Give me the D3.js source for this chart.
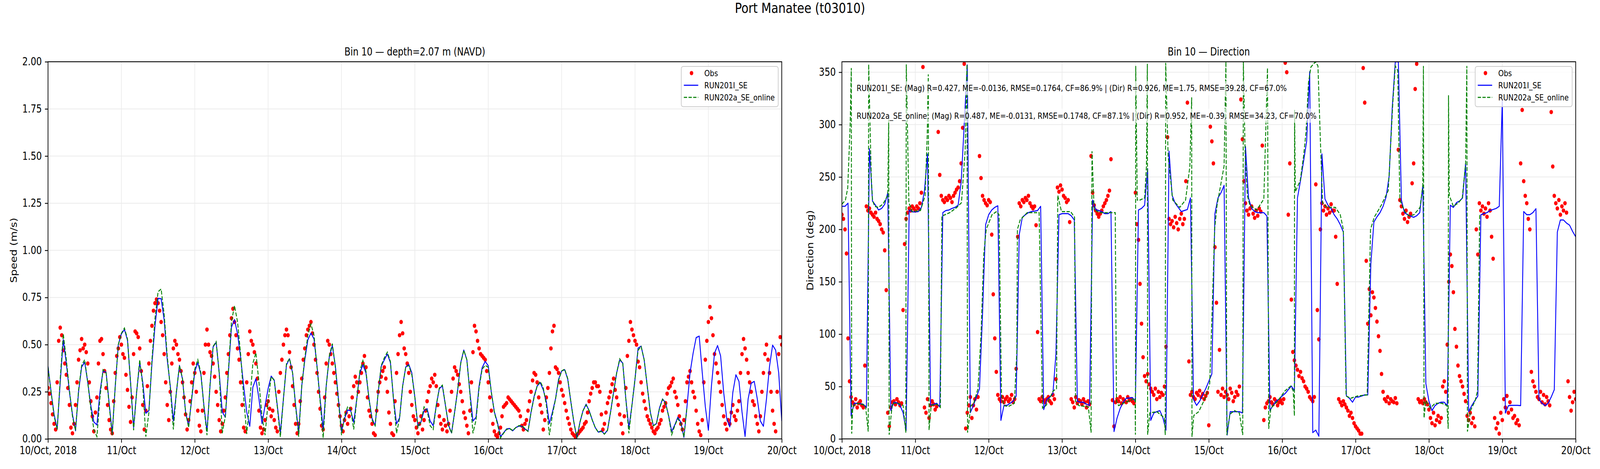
<!DOCTYPE html>
<html><head><meta charset="utf-8">
<script src="https://cdn.jsdelivr.net/npm/d3@7"></script>
<style>
html,body{margin:0;padding:0;background:#fff;overflow:hidden;width:100%;height:100%;}
svg{display:block;font-family:"DejaVu Sans",sans-serif;width:100vw;height:100vh;}
</style></head><body>
<svg id="chart" viewBox="0 0 5000 1200" preserveAspectRatio="none"></svg>
<script>
// ---------------- DATA ----------------
const dayLabels = ["10/Oct, 2018","11/Oct","12/Oct","13/Oct","14/Oct","15/Oct","16/Oct","17/Oct","18/Oct","19/Oct","20/Oct"];
const dayHours = [0,24,48,72,96,120,144,168,192,216,240];
const speedTicks = [0,0.25,0.5,0.75,1,1.25,1.5,1.75,2];
const dirTicks = [0,50,100,150,200,250,300,350];
const seriesNames = ["Obs","RUN201I_SE","RUN202a_SE_online"];
const statLines = [
  "RUN201I_SE: (Mag) R=0.427, ME=-0.0136, RMSE=0.1764, CF=86.9% | (Dir) R=0.926, ME=1.75, RMSE=39.28, CF=67.0%",
  "RUN202a_SE_online: (Mag) R=0.487, ME=-0.0131, RMSE=0.1748, CF=87.1% | (Dir) R=0.952, ME=-0.39, RMSE=34.23, CF=70.0%"
];

// observed speed (m/s), every 30 min from 10/Oct 00:00
const obsSpeed = [
0.27,0.24,0.19,0.13,0.08,0.05,0.30,0.52,0.59,0.55,0.47,0.40,
0.34,0.27,0.18,0.06,0.03,0.08,0.18,0.30,0.42,0.47,0.53,0.48,
0.50,0.46,0.40,0.30,0.20,0.12,0.04,0.14,0.22,0.40,0.52,0.53,
0.45,0.36,0.27,0.18,0.10,0.05,0.03,0.20,0.35,0.44,0.48,0.54,
0.50,0.45,0.43,0.34,0.26,0.17,0.09,0.22,0.45,0.57,0.56,0.54,
0.48,0.36,0.18,0.05,0.15,0.28,0.40,0.52,0.60,0.68,0.72,0.74,
0.72,0.68,0.62,0.55,0.45,0.30,0.18,0.10,0.25,0.40,0.48,0.52,
0.50,0.45,0.42,0.36,0.30,0.22,0.13,0.05,0.10,0.20,0.30,0.40,
0.35,0.25,0.15,0.07,0.04,0.15,0.35,0.50,0.58,0.50,0.46,0.44,
0.40,0.33,0.25,0.18,0.10,0.04,0.08,0.15,0.22,0.35,0.45,0.55,
0.64,0.69,0.62,0.55,0.48,0.42,0.30,0.18,0.06,0.04,0.30,0.45,
0.57,0.52,0.50,0.46,0.40,0.32,0.15,0.06,0.03,0.05,0.10,0.18,
0.20,0.16,0.12,0.15,0.10,0.06,0.04,0.25,0.35,0.42,0.50,0.55,
0.58,0.55,0.46,0.38,0.28,0.18,0.08,0.03,0.08,0.20,0.32,0.42,
0.48,0.55,0.58,0.60,0.62,0.56,0.50,0.42,0.35,0.25,0.16,0.07,
0.05,0.22,0.40,0.52,0.50,0.45,0.40,0.35,0.30,0.24,0.18,0.12,
0.07,0.04,0.10,0.14,0.08,0.12,0.16,0.22,0.28,0.33,0.30,0.25,
0.30,0.35,0.40,0.44,0.38,0.22,0.15,0.12,0.08,0.03,0.02,0.15,
0.25,0.30,0.33,0.36,0.38,0.32,0.25,0.14,0.08,0.03,0.02,0.20,
0.35,0.45,0.55,0.62,0.56,0.48,0.45,0.40,0.35,0.25,0.18,0.12,
0.10,0.06,0.03,0.08,0.12,0.05,0.10,0.15,0.20,0.25,0.28,0.32,
0.30,0.34,0.28,0.18,0.12,0.08,0.05,0.10,0.07,0.04,0.08,0.15,
0.25,0.32,0.38,0.36,0.34,0.29,0.25,0.20,0.14,0.11,0.07,0.03,
0.15,0.30,0.46,0.60,0.57,0.52,0.48,0.45,0.44,0.43,0.42,0.36,
0.30,0.22,0.15,0.08,0.04,0.02,0.01,0.03,0.06,0.12,0.17,0.18,
0.19,0.22,0.21,0.20,0.19,0.18,0.17,0.16,0.15,0.12,0.07,0.05,
0.08,0.10,0.15,0.20,0.25,0.31,0.35,0.34,0.30,0.22,0.18,0.14,
0.05,0.10,0.22,0.27,0.35,0.48,0.57,0.60,0.38,0.37,0.35,0.30,
0.26,0.23,0.19,0.15,0.11,0.08,0.05,0.03,0.02,0.01,0.02,0.03,
0.04,0.05,0.06,0.08,0.09,0.14,0.20,0.24,0.27,0.30,0.30,0.28,
0.28,0.25,0.13,0.05,0.08,0.14,0.19,0.22,0.25,0.29,0.32,0.26,
0.22,0.18,0.13,0.08,0.03,0.12,0.27,0.44,0.52,0.62,0.58,0.55,
0.52,0.50,0.41,0.38,0.30,0.24,0.20,0.16,0.12,0.10,0.08,0.06,
0.04,0.03,0.05,0.06,0.08,0.10,0.15,0.17,0.19,0.24,0.27,0.28,
0.30,0.32,0.25,0.22,0.18,0.12,0.08,0.05,0.10,0.20,0.30,0.33,
0.36,0.30,0.25,0.22,0.15,0.08,0.04,0.02,0.10,0.30,0.42,0.52,
0.62,0.70,0.64,0.55,0.45,0.40,0.35,0.30,0.25,0.18,0.12,0.08,
0.05,0.10,0.08,0.14,0.18,0.12,0.10,0.15,0.20,0.35,0.45,0.53,
0.48,0.42,0.35,0.30,0.25,0.20,0.18,0.12,0.08,0.04,0.12,0.25,
0.35,0.45,0.50,0.42,0.35,0.25,0.15,0.08,0.04,0.25,0.45,0.54,
0.50
];

// RUN201I_SE speed, hourly
const run201Speed = [
0.385,0.25,0.13,0.053,0.30,0.526,0.40,0.25,0.13,0.043,0.25,0.381,
0.407,0.30,0.177,0.09,0.074,0.25,0.36,0.354,0.19,0.03,0.28,0.50,
0.557,0.58,0.523,0.30,0.06,0.25,0.405,0.30,0.136,0.15,0.40,0.60,
0.745,0.744,0.63,0.42,0.28,0.095,0.247,0.39,0.316,0.143,0.067,0.21,
0.357,0.404,0.343,0.177,0.04,0.281,0.488,0.512,0.35,0.143,0.115,0.35,
0.592,0.633,0.557,0.433,0.281,0.143,0.067,0.274,0.319,0.212,0.081,0.177,
0.267,0.333,0.312,0.177,0.032,0.212,0.392,0.425,0.35,0.177,0.032,0.281,
0.419,0.526,0.561,0.53,0.385,0.212,0.053,0.281,0.433,0.495,0.385,0.212,
0.04,0.108,0.153,0.15,0.088,0.212,0.35,0.392,0.35,0.212,0.108,0.07,
0.247,0.385,0.419,0.45,0.405,0.212,0.08,0.112,0.281,0.381,0.395,0.35,
0.22,0.067,0.09,0.15,0.16,0.095,0.07,0.177,0.267,0.281,0.177,0.074,
0.032,0.143,0.26,0.405,0.471,0.419,0.247,0.095,0.115,0.281,0.378,0.411,
0.388,0.247,0.143,0.088,0.012,0.032,0.053,0.055,0.043,0.06,0.068,0.067,
0.053,0.04,0.143,0.226,0.281,0.298,0.26,0.198,0.081,0.143,0.212,0.316,
0.36,0.367,0.316,0.198,0.088,0.005,0.088,0.15,0.184,0.15,0.102,0.06,
0.036,0.043,0.026,0.046,0.143,0.247,0.35,0.419,0.402,0.212,0.06,0.177,
0.316,0.481,0.492,0.419,0.281,0.143,0.07,0.081,0.164,0.212,0.191,0.122,
0.04,0.074,0.115,0.088,0.008,0.171,0.35,0.454,0.537,0.545,0.35,0.171,
0.046,0.281,0.454,0.495,0.44,0.247,0.108,0.064,0.247,0.34,0.305,0.143,
0.013,0.212,0.295,0.305,0.212,0.095,0.067,0.212,0.385,0.497,0.471,0.35,
0.095
];

// RUN202a_SE_online speed, hourly (ends 18/Oct ~17:00)
const run202Speed = [
0.38,0.25,0.12,0.05,0.32,0.557,0.42,0.26,0.12,0.045,0.26,0.39,
0.42,0.30,0.16,0.05,0.012,0.22,0.367,0.35,0.18,0.02,0.28,0.50,
0.56,0.588,0.53,0.30,0.046,0.25,0.42,0.28,0.012,0.14,0.42,0.64,
0.78,0.795,0.66,0.44,0.27,0.05,0.25,0.39,0.32,0.14,0.06,0.22,
0.37,0.42,0.35,0.17,0.02,0.29,0.49,0.516,0.35,0.03,0.12,0.36,
0.62,0.707,0.62,0.45,0.22,0.026,0.20,0.40,0.457,0.30,0.12,0.02,
0.20,0.33,0.31,0.17,0.01,0.21,0.40,0.426,0.35,0.17,0.012,0.28,
0.43,0.55,0.609,0.55,0.38,0.20,0.005,0.28,0.44,0.505,0.38,0.20,
0.02,0.12,0.17,0.16,0.05,0.21,0.36,0.416,0.36,0.21,0.10,0.07,
0.25,0.39,0.43,0.46,0.41,0.21,0.03,0.11,0.28,0.38,0.39,0.34,
0.22,0.06,0.09,0.17,0.15,0.07,0.05,0.18,0.27,0.285,0.18,0.07,
0.03,0.14,0.26,0.40,0.47,0.42,0.24,0.03,0.10,0.27,0.37,0.39,
0.38,0.25,0.14,0.08,0.005,0.03,0.05,0.055,0.045,0.06,0.07,0.07,
0.055,0.04,0.14,0.22,0.28,0.305,0.27,0.18,0.02,0.13,0.21,0.31,
0.36,0.37,0.32,0.20,0.09,0.005,0.09,0.15,0.18,0.15,0.10,0.06,
0.035,0.04,0.025,0.045,0.14,0.25,0.35,0.425,0.40,0.21,0.03,0.18,
0.32,0.47,0.49,0.42,0.28,0.14,0.07,0.08,0.16,0.21,0.19,0.12,
0.022,0.07,0.108,0.08,0.01,0.17
];

// observed direction (deg), every 30 min
const obsDir = [
214,210,200,177,96,55,40,35,33,38,30,34,
36,32,30,70,222,218,220,216,214,212,216,210,
208,205,200,197,180,142,25,12,30,35,36,33,
38,35,32,34,123,186,210,216,220,218,222,220,
218,222,220,225,235,355,30,25,38,20,32,36,
33,28,31,293,252,232,228,226,230,228,232,230,
226,232,235,238,240,246,263,297,358,10,25,32,
40,20,32,38,28,40,270,249,232,228,225,223,
228,226,195,138,96,64,42,38,36,40,35,38,
40,36,38,42,35,38,67,193,225,222,228,226,
230,228,232,225,222,220,222,204,102,38,36,40,
37,35,38,40,36,34,42,38,57,240,236,242,
238,232,230,226,228,207,38,35,30,40,34,37,
36,33,38,35,30,36,33,270,235,223,218,215,
212,215,218,222,225,228,232,237,267,37,12,35,
38,36,40,34,38,36,35,40,37,38,36,34,
235,205,190,148,110,78,60,55,62,52,48,45,
42,48,38,45,40,44,42,50,88,288,210,205,
208,202,212,206,200,210,215,205,210,246,321,74,
42,45,40,38,44,42,46,40,43,38,41,44,
13,298,284,263,183,130,45,85,42,48,40,45,
42,38,48,44,36,40,45,42,50,324,286,246,
225,218,214,220,222,215,211,218,213,220,217,280,
18,30,34,36,40,35,33,38,36,32,35,37,
34,38,359,350,214,263,133,83,75,70,66,60,
64,58,55,50,48,45,40,38,36,40,243,123,
95,200,225,218,222,214,220,216,224,218,218,193,
148,38,35,32,36,33,30,27,22,25,20,15,
12,10,8,5,5,354,321,170,110,143,118,140,
135,125,112,98,84,62,45,38,36,40,34,38,
36,35,39,34,276,228,222,215,210,218,207,212,
215,244,263,334,358,38,35,36,34,38,35,33,
28,20,15,25,13,18,22,16,20,50,55,45,
90,150,176,165,140,105,88,70,60,55,50,43,
36,22,18,25,15,20,12,200,176,225,218,222,
215,220,212,225,218,193,172,20,10,15,5,25,
18,38,30,41,25,35,28,20,22,15,18,13,
263,314,246,232,225,210,200,64,55,50,45,40,
38,45,35,42,33,40,36,32,312,260,232,225,
220,228,214,222,218,225,216,55,40,27,35,45,
38
];

// RUN201I_SE direction, hourly
const run201Dir = [
222,222,225,22,34,34,33.6,33,30,277,227,223,
218.5,220,224,235,27,35,34.5,32,25,8,218.5,216.7,
216.7,217,221,237,272,32,33,34,30.6,216,218,218.5,
220,221,223,245,300,357,25,32,40,48,120,204.5,
214,218.5,221,222.5,17.7,32,32,34,36,41,195,211.5,
214,216,217,217.4,218,222,28,37.6,40,43,81,214,
215,215,215,213,209,36,35,35,33,32,228,219,
218,217,215,215,217,7,20,29,35,38.8,39,39.5,
36,218.5,220,223,258,17.7,24.7,26,27,20,8.4,274.6,
232.5,225,221,217,218,219,230,37.6,32,36,42,48,
55,62,215,230,235,242,3.7,26,26,26,26,24.7,
279,230,220,217,216,216,216,212.7,27,32,36,38,
41,43.4,47,50.4,46,230,246.6,265,284,350.5,6,8.4,
2.6,272,229,223,220,214,210,204.5,197.5,41,38.8,35,
40,40,41,42,42,167,207,212,216,222,231,251,
316,360,360,228,216,214,212.7,211.5,213,216,242,52.8,
36,27,31.8,34,35,35,31.8,223,221,225.5,227,230,
263,26,31.8,36.4,41,214,215,216,218,219,220,222,
323.6,24.7,31.8,32,32,32,31.8,217,214,214,216,219.7,
37.6,34,31.8,34,40,47,197.5,209,209,206,204,198,
193
];

// RUN202a_SE_online direction: [hour, deg] vertices
const run202Dir = [
[0,224],[1.15,228],[1.9,239.5],[2.7,300],[3.07,354],[3.2,5],[3.5,28],[3.84,32],[5.4,34],[7.7,32],[8.6,7],[8.75,357.5],
[9.2,300],[9.6,250],[10,228],[10.7,222],[11.9,221],[13.4,224],[15,232.5],[15.3,305],[15.45,4],[16.5,34],[18.4,34],[20,32],
[20.9,6],[21.05,357.5],[21.9,225.5],[23,217],[25.7,218],[27.2,232],[27.9,290],[28.25,348],[28.5,8.4],[29.2,32],[31.1,33],
[32.2,30],[32.7,212.7],[35.3,216],[37.6,221],[39.1,225.5],[40.3,274.6],[40.9,357.5],[41.1,6],[42.2,32],[43,33],[44.5,48],
[45.5,100],[46.4,176.5],[47.2,200],[49.1,214],[50.6,217],[51.4,214],[52.2,41],[53,31.8],[54.5,31],[56.4,34],[57.2,83],
[57.4,200],[58.3,209],[60.6,216],[64.5,216],[65.6,29.4],[66.8,32],[69.1,45.8],[70.2,48],[70.6,232.5],[71.8,217],[74.8,217],
[76.1,211.5],[76.4,36],[77.5,31.8],[80.6,30.6],[81.5,6],[81.8,274.6],[82.5,218.5],[84.5,216],[89.4,216],[89.8,36],[90.5,31.8],
[92,34],[94,36.4],[95.9,38.8],[96.0,4],[96.1,356],[96.6,228],[97.5,228],[99,230],[99.6,260],[99.9,358],[100.0,4],[100.7,24.8],
[103,26],[105.5,20],[105.75,3.7],[105.9,359],[106.7,270],[108.2,228],[110.5,221],[112.4,228],[113.8,260],[114.4,326],[114.5,2],
[115.1,22.4],[116.7,26],[119,40],[120.3,52.8],[121.3,141],[121.9,200],[122.7,223],[125,260.6],[125.6,360],[125.9,3.7],
[126.9,23.6],[128.4,27],[130,24.7],[131.1,3.7],[131.3,360],[131.9,270],[132.6,232.5],[133.4,223],[135.7,218.5],[138,229],
[139.2,354],[139.6,9.6],[140.3,29.4],[142.6,36.4],[144.9,45.8],[146.8,50.4],[147.6,46],[148.0,22],[148.05,314],[148.3,236],
[149.9,246.6],[151,270],[151.8,293],[152.6,340],[153.4,355],[154.9,360],[155.7,356],[156.4,293],[157.2,225.5],
[158.7,221],[161.4,221],[163,214],[164,200],[164.9,41],[166.4,38.8],[168.7,41],[171.8,42],[172.9,200],[174.1,211.5],
[176.4,223],[178.7,237],[180.2,321],[181,356],[181.8,351.6],[182.1,293],[182.5,228],[184.1,217],[185.6,212.7],[187.1,214],
[189.1,221],[190,242],[190.2,356],[190.4,20],[191,36.4],[192.5,29.4],[194,34],[196.3,34],[197.9,31.8],[198.3,9.6],
[198.4,328],[198.65,232.5],[200,222],[201.7,225.5],[202.9,230],[204,263],[204.4,356],[204.6,7],[205.6,27],
[207.1,36.4],[207.9,45.8],[208.6,214]
];

// ---------------- DRAWING ----------------
const svg = d3.select("#chart");
const TOP = 158, BOTTOM = 1123;
const FONT = 27.5, SMALL = 22;
const defs = svg.append("defs");

const halfHourly = a => a.map((v,i)=>[i*0.5, v]);
const hourly = a => a.map((v,i)=>[i, v]);

svg.append("text").attr("x",2500).attr("y",33).attr("text-anchor","middle")
  .attr("font-size",36).attr("fill","#000").text("Port Manatee (t03010)");

function drawPanel(p){
  const x = d3.scaleLinear().domain([0,240]).range([p.x0,p.x1]);
  const y = d3.scaleLinear().domain(p.yDomain).range([BOTTOM,TOP]);
  const g = svg.append("g");
  const cid = "clip-"+p.key;
  defs.append("clipPath").attr("id",cid).append("rect")
    .attr("x",p.x0).attr("y",TOP).attr("width",p.x1-p.x0).attr("height",BOTTOM-TOP);

  // grid
  const grid = g.append("g").attr("stroke","#ebebeb").attr("stroke-width",2);
  grid.selectAll("line.v").data(dayHours).join("line").attr("class","v")
    .attr("x1",d=>x(d)).attr("x2",d=>x(d)).attr("y1",TOP).attr("y2",BOTTOM);
  grid.selectAll("line.h").data(p.ticks).join("line").attr("class","h")
    .attr("x1",p.x0).attr("x2",p.x1).attr("y1",d=>y(d)).attr("y2",d=>y(d));

  const plot = g.append("g").attr("clip-path",`url(#${cid})`);
  plot.append("g").selectAll("circle").data(halfHourly(p.obs)).join("circle")
    .attr("cx",d=>x(d[0])).attr("cy",d=>y(d[1])).attr("r",5.5).attr("fill","#ff0000");
  const line = d3.line().x(d=>x(d[0])).y(d=>y(d[1]));
  plot.append("path").datum(p.m1).attr("d",line).attr("fill","none")
    .attr("stroke","#0000ff").attr("stroke-width",2.75).attr("stroke-linejoin","round");
  plot.append("path").datum(p.m2).attr("d",line).attr("fill","none")
    .attr("stroke","#008000").attr("stroke-width",2.75).attr("stroke-dasharray","10.2,4.4");

  // axes
  const xa = g.append("g").attr("transform",`translate(0,${BOTTOM})`)
    .call(d3.axisBottom(x).tickValues(dayHours).tickFormat((d,i)=>dayLabels[i])
      .tickSize(9.6).tickPadding(9.6).tickSizeOuter(0));
  const ya = g.append("g").attr("transform",`translate(${p.x0},0)`)
    .call(d3.axisLeft(y).tickValues(p.ticks).tickFormat(p.fmt)
      .tickSize(9.6).tickPadding(9.6).tickSizeOuter(0));
  [xa,ya].forEach(a=>{
    a.attr("font-family","DejaVu Sans").attr("font-size",FONT);
    a.select(".domain").remove();
    a.selectAll("line").attr("stroke","#000").attr("stroke-width",2.2);
    a.selectAll("text").attr("fill","#000");
  });
  g.append("rect").attr("x",p.x0).attr("y",TOP).attr("width",p.x1-p.x0).attr("height",BOTTOM-TOP)
    .attr("fill","none").attr("stroke","#000").attr("stroke-width",2.2);

  g.append("text").attr("x",(p.x0+p.x1)/2).attr("y",142).attr("text-anchor","middle")
    .attr("font-size",FONT).text(p.title);
  g.append("text").attr("transform",`translate(${p.labelX},${(TOP+BOTTOM)/2}) rotate(-90)`)
    .attr("text-anchor","middle").attr("font-size",FONT).text(p.ylabel);

  if (p.stats){
    p.stats.forEach((s,i)=>{
      const yy = TOP + (BOTTOM-TOP)*(1 - p.statY[i]);
      const tg = g.append("g");
      const t = tg.append("text").attr("x",p.x0 + 0.02*(p.x1-p.x0)).attr("y",yy).attr("dy","0.35em")
        .attr("font-size",SMALL).text(s);
      const b = t.node().getBBox();
      tg.insert("rect","text").attr("x",b.x-4).attr("y",b.y-5).attr("width",b.width+8).attr("height",b.height+10)
        .attr("fill","#fff").attr("fill-opacity",0.65);
    });
  }

  // legend
  const lx = p.x1 - 11 - 303, ly = TOP + 12;
  const lg = g.append("g");
  lg.append("rect").attr("x",lx).attr("y",ly).attr("width",303).attr("height",103).attr("rx",6)
    .attr("fill","#fff").attr("fill-opacity",0.8).attr("stroke","#cccccc").attr("stroke-width",2.2);
  const rows = [ly+17, ly+48, ly+79];
  lg.append("circle").attr("cx",lx+32).attr("cy",rows[0]).attr("r",5.5).attr("fill","#ff0000");
  lg.append("line").attr("x1",lx+8).attr("x2",lx+53).attr("y1",rows[1]).attr("y2",rows[1])
    .attr("stroke","#0000ff").attr("stroke-width",2.75);
  lg.append("line").attr("x1",lx+8).attr("x2",lx+53).attr("y1",rows[2]).attr("y2",rows[2])
    .attr("stroke","#008000").attr("stroke-width",2.75).attr("stroke-dasharray","10.2,4.4");
  seriesNames.forEach((n,i)=>{
    lg.append("text").attr("x",lx+72).attr("y",rows[i]).attr("dy","0.35em").attr("font-size",SMALL).text(n);
  });
}

drawPanel({
  key:"speed", x0:150, x1:2443, yDomain:[0,2], ticks:speedTicks, fmt:d3.format(".2f"),
  obs:obsSpeed, m1:hourly(run201Speed), m2:hourly(run202Speed),
  title:"Bin 10 \u2014 depth=2.07 m (NAVD)", ylabel:"Speed (m/s)", labelX:52
});
drawPanel({
  key:"dir", x0:2631, x1:4924, yDomain:[0,360], ticks:dirTicks, fmt:d3.format("d"),
  obs:obsDir, m1:hourly(run201Dir), m2:run202Dir,
  title:"Bin 10 \u2014 Direction", ylabel:"Direction (deg)", labelX:2541,
  stats:statLines, statY:[0.93,0.857]
});
</script>
</body></html>
